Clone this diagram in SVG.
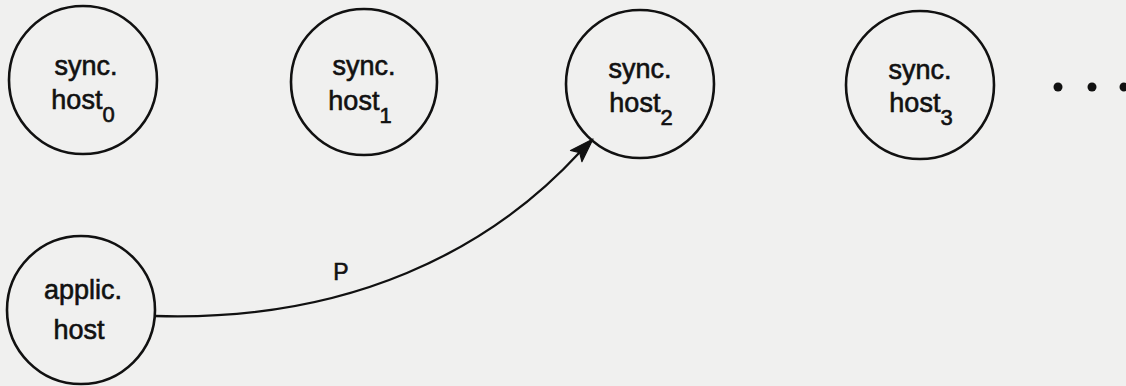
<svg xmlns="http://www.w3.org/2000/svg" width="1126" height="386" viewBox="0 0 1126 386">
<defs>
<style>
.node{fill:none;stroke:#111;stroke-width:2.6}
.lbl{font-family:"Liberation Sans",Arial,sans-serif;font-size:27px;fill:#111;stroke:#111;stroke-width:0.6;text-anchor:middle}
.sub{font-size:22px}
.edge{fill:none;stroke:#111;stroke-width:2.3}
.head{fill:#111;stroke:#111;stroke-width:1.2;stroke-linejoin:round}
.dot{fill:#111}
.plbl{font-size:23px}
</style>
</defs>
<rect width="1126" height="386" fill="#f0f0ef"/>
<g id="sync0">
<circle class="node" cx="83" cy="80" r="74"/>
<text class="lbl" x="86" y="75">sync.</text>
<text class="lbl" x="83" y="109">host<tspan class="sub" dy="13">0</tspan></text>
</g>
<g id="sync1">
<circle class="node" cx="364" cy="82" r="73"/>
<text class="lbl" x="364" y="75">sync.</text>
<text class="lbl" x="360" y="110">host<tspan class="sub" dy="13">1</tspan></text>
</g>
<g id="sync2">
<circle class="node" cx="640" cy="84" r="74"/>
<text class="lbl" x="640" y="78">sync.</text>
<text class="lbl" x="641" y="112">host<tspan class="sub" dy="13">2</tspan></text>
</g>
<g id="sync3">
<circle class="node" cx="920" cy="85" r="74"/>
<text class="lbl" x="920" y="79">sync.</text>
<text class="lbl" x="921" y="112">host<tspan class="sub" dy="13">3</tspan></text>
</g>
<g id="ellipsis">
<circle class="dot" cx="1058" cy="87" r="4.5"/>
<circle class="dot" cx="1092" cy="87" r="4.5"/>
<circle class="dot" cx="1124" cy="87" r="4.5"/>
</g>
<g id="applic">
<circle class="node" cx="81" cy="310" r="74"/>
<text class="lbl" x="83" y="299">applic.</text>
<text class="lbl" x="79" y="339">host</text>
</g>
<g id="connectors">
<path class="edge" d="M155,316 C350,322 490,250 580,152"/>
<polygon class="head" points="593,139 581.9,161.7 579.7,152.6 570.5,150.5"/>
<text class="lbl plbl" x="341" y="280">P</text>
</g>
</svg>
